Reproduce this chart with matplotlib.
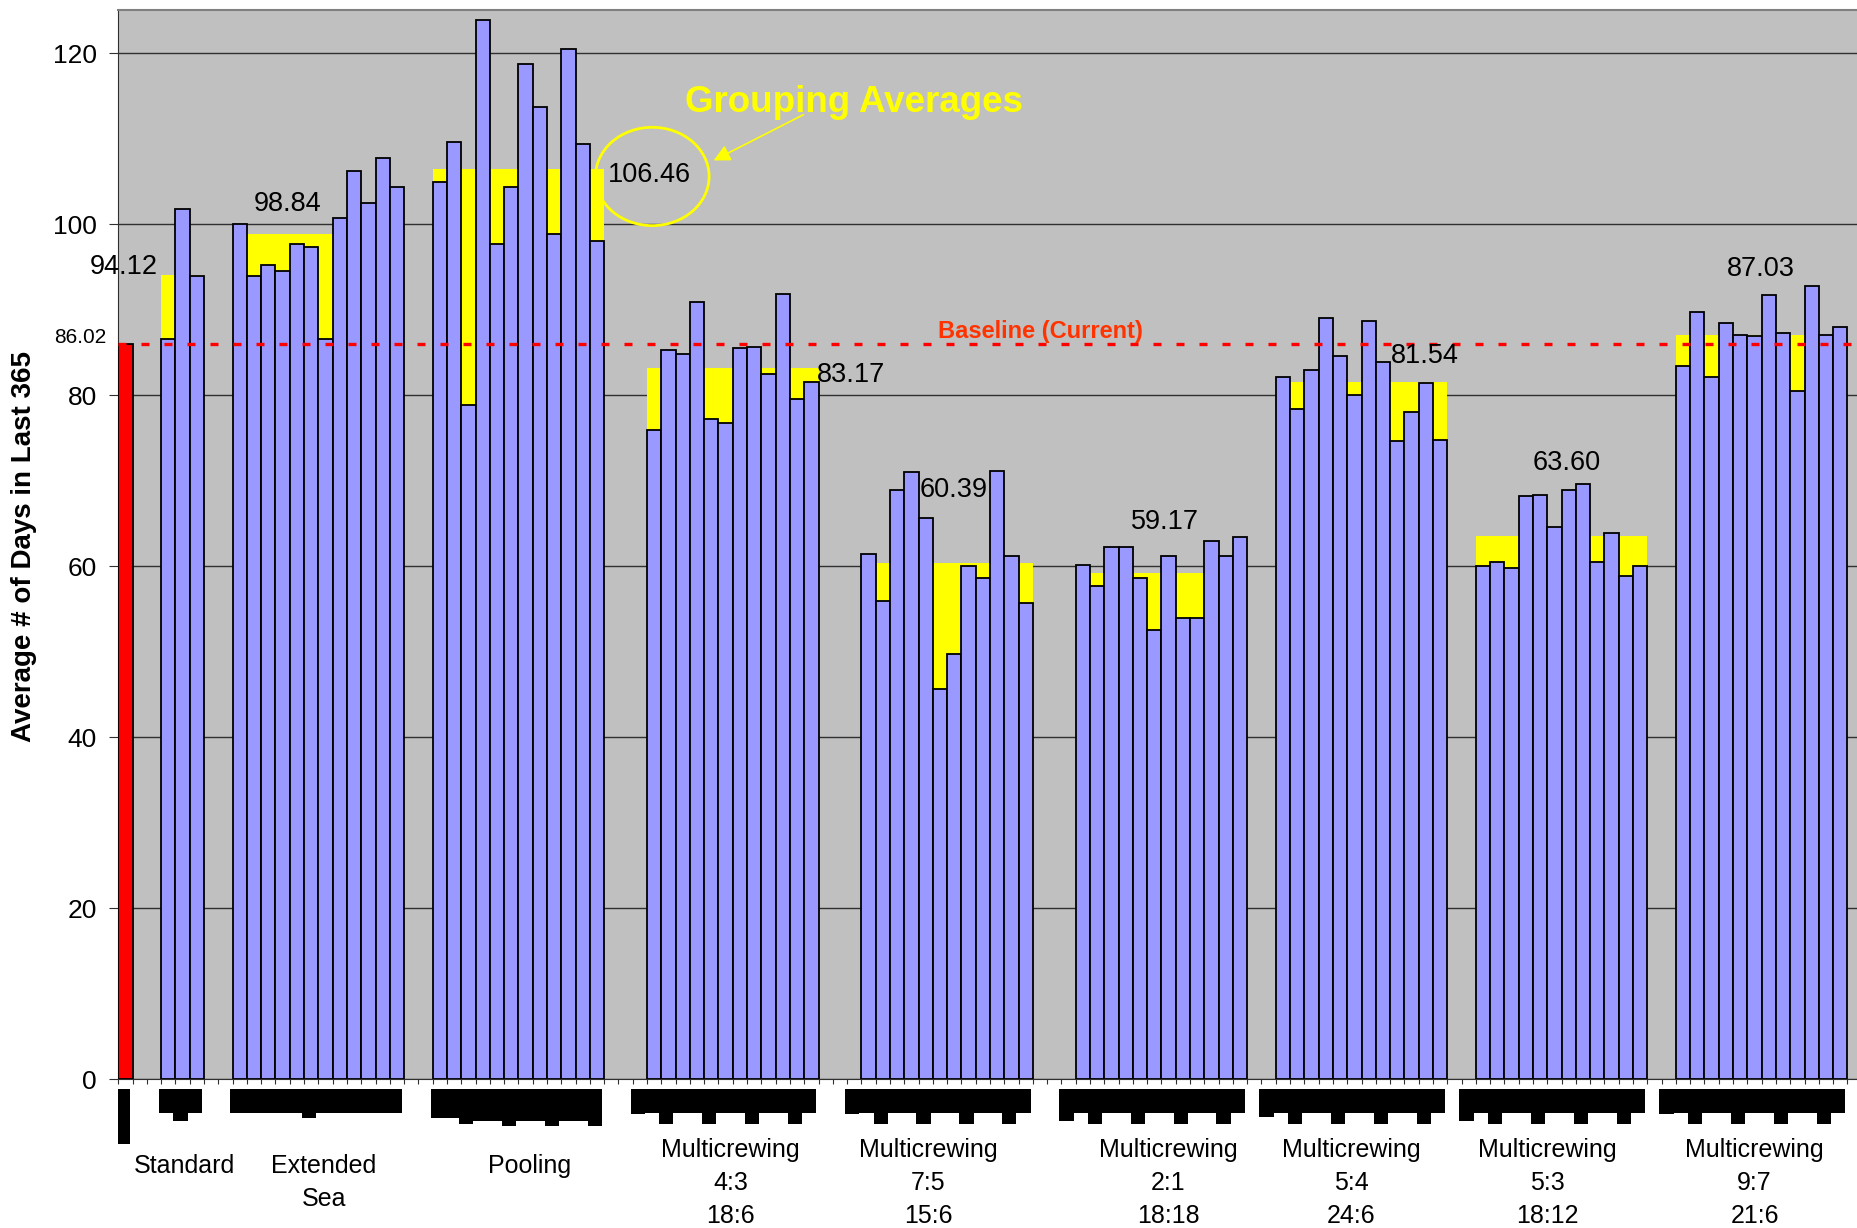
import matplotlib
matplotlib.use('Agg')  # no display
import matplotlib.pyplot as plt
from matplotlib.patches import Ellipse
import numpy as np

plt.rcParams['font.family'] = ['Liberation Sans', 'DejaVu Sans']

# Baseline (current) value, drawn as the red bar on the left
baseline_value = 86.02

# Groups of options
group_names = [
    ['Standard'],
    ['Extended', 'Sea'],
    ['Pooling'],
    ['Multicrewing', '4:3', '18:6'],
    ['Multicrewing', '7:5', '15:6'],
    ['Multicrewing', '2:1', '18:18'],
    ['Multicrewing', '5:4', '24:6'],
    ['Multicrewing', '5:3', '18:12'],
    ['Multicrewing', '9:7', '21:6'],
]

standard_vals = [86.6, 101.8, 93.9]
extended_vals = [100.0, 93.9, 95.2, 94.6, 97.7, 97.3, 86.6, 100.7, 106.2, 102.5, 107.8, 104.4]
pooling_vals = [105.0, 109.6, 78.9, 123.9, 97.7, 104.4, 118.7, 113.7, 98.9, 120.5, 109.4, 98.0]
mc_4_3_vals = [75.9, 85.3, 84.8, 90.9, 77.2, 76.8, 85.5, 85.7, 82.5, 91.9, 79.6, 81.6]
mc_7_5_vals = [61.4, 55.9, 68.9, 71.0, 65.7, 45.7, 49.8, 60.0, 58.6, 71.2, 61.2, 55.7]
mc_2_1_vals = [60.2, 57.7, 62.3, 62.3, 58.6, 52.6, 61.2, 54.0, 54.0, 63.0, 61.2, 63.4]
mc_5_4_vals = [82.1, 78.4, 83.0, 89.1, 84.6, 80.0, 88.7, 83.9, 74.6, 78.0, 81.4, 74.8]
mc_5_3_vals = [60.0, 60.5, 59.8, 68.2, 68.4, 64.6, 68.9, 69.6, 60.5, 63.9, 58.9, 60.0]
mc_9_7_vals = [83.4, 89.8, 82.1, 88.5, 87.1, 86.9, 91.7, 87.3, 80.5, 92.8, 87.1, 88.0]

group_values = [standard_vals, extended_vals, pooling_vals, mc_4_3_vals, mc_7_5_vals,
                mc_2_1_vals, mc_5_4_vals, mc_5_3_vals, mc_9_7_vals]

# Grouping averages (as printed on the chart)
group_avgs = [94.12, 98.84, 106.46, 83.17, 60.39, 59.17, 81.54, 63.60, 87.03]

# Empty category slots before each group
group_gap = [2, 2, 2, 3, 3, 3, 2, 2, 2]

# Black label blocks under the axis (depth below the axis line, in pixels)
baseline_block = 64.7
group_blocks = [
    [33.4, 42.0, 33.4],
    [33.4, 33.4, 33.4, 33.4, 33.4, 38.4, 33.4, 33.4, 33.4, 33.4, 33.4, 33.4],
    [38.4, 38.4, 44.7, 41.7, 41.7, 46.7, 41.7, 41.7, 46.7, 41.7, 41.7, 46.7],
    [33.4, 44.7, 33.4, 33.4, 44.7, 33.4, 33.4, 44.7, 33.4, 33.4, 44.7, 33.4],
    [33.4, 44.7, 33.4, 33.4, 44.7, 33.4, 33.4, 44.7, 33.4, 33.4, 44.7, 33.4],
    [33.4, 44.7, 33.4, 33.4, 44.7, 33.4, 33.4, 44.7, 33.4, 33.4, 44.7, 33.4],
    [33.4, 44.7, 33.4, 33.4, 44.7, 33.4, 33.4, 44.7, 33.4, 33.4, 44.7, 33.4],
    [33.4, 44.7, 33.4, 33.4, 44.7, 33.4, 33.4, 44.7, 33.4, 33.4, 44.7, 33.4],
    [33.4, 44.7, 33.4, 33.4, 44.7, 33.4, 33.4, 44.7, 33.4, 33.4, 44.7, 33.4],
]
# block piece in the slot just before the group (None = no piece)
group_pre_block = [None, None, None, 35.0, 35.0, 41.4, 37.4, 41.4, 35.0]

# Layout: positions of the average labels (slot units, data units) and label nudges
avg_label_pos = [(-0.09, 94.19), (11.31, 101.59), (36.64, 104.91), (50.76, 81.59),
                 (57.97, 68.07), (72.73, 64.42), (90.92, 83.74), (100.86, 71.26),
                 (114.47, 93.95)]
name_nudge = [0.1, 0.38, 0.81, -0.14, -1.3, 0.48, -0.72, -0.97, -0.5]

BAR_BLUE = '#9999FF'
YELLOW = '#FFFF00'
GRAY_BG = '#C0C0C0'

# Category positions
positions = []
cur = 1
for gap, vals in zip(group_gap, group_values):
    cur += gap
    positions.append(np.arange(cur, cur + len(vals)))
    cur += len(vals)
n_slots = cur + 1

W, H = 1858, 1228
fig = plt.figure(figsize=(W / 100, H / 100), dpi=100)
fig.patch.set_facecolor('white')

slot_px = 14.29
ax_left = 118.3 / W
ax_bottom = (H - 1079.3) / H
ax_height = (1079.3 - 10) / H
ax_width = n_slots * slot_px / W
ax = fig.add_axes([ax_left, ax_bottom, ax_width, ax_height])
ax.set_facecolor(GRAY_BG)
ax.set_xlim(-0.5, n_slots - 0.5)
ax.set_ylim(0, 125.07)

# Gridlines
ax.set_yticks(np.arange(0, 121, 20))
ax.yaxis.grid(True, color='#303030', linewidth=1.0)
ax.set_axisbelow(True)

# Red baseline bar
ax.bar(0, baseline_value, width=1.0, color='#FF0000', edgecolor='black', linewidth=1.3, zorder=3)

# Yellow group averages behind blue bars, then blue bars
for xs, vals, avg in zip(positions, group_values, group_avgs):
    ax.bar(xs.mean(), avg, width=len(xs), color=YELLOW, linewidth=0, zorder=2)
    ax.bar(xs, vals, width=1.0, color=BAR_BLUE, edgecolor='black', linewidth=1.3, zorder=3)

# Baseline dashed line
ax.axhline(baseline_value, color='#FF0000', linewidth=2.4, dashes=(2.4, 4.5), zorder=4)
ax.text(64.0, 86.67, 'Baseline (Current)', color='#FF3300', fontsize=17, fontweight='bold',
        ha='center', va='baseline', zorder=5)
ax.text(-1.31, 86.08, f'{baseline_value:.2f}', fontsize=15, ha='right', va='baseline',
        clip_on=False)

# Average labels
for (lx, ly), avg in zip(avg_label_pos, group_avgs):
    ax.text(lx, ly, f'{avg:.2f}', fontsize=19.5, ha='center', va='baseline', zorder=5,
            clip_on=False)

# Call-out for the averages
ax.add_patch(Ellipse((36.87, 105.6), width=7.95, height=11.5, fill=False,
                     edgecolor=YELLOW, linewidth=2.0, zorder=5))
ax.annotate('', xy=(40.98, 107.32), xytext=(47.63, 112.98),
            arrowprops=dict(arrowstyle='-|>', color=YELLOW, lw=1.2, mutation_scale=25),
            zorder=5)
ax.text(50.95, 113.17, 'Grouping Averages', color=YELLOW, fontsize=26.5, fontweight='bold',
        ha='center', va='baseline', zorder=5)

# Axes styling
ax.set_xticks(np.arange(-0.5, n_slots, 1))
ax.set_xticklabels([])
ax.tick_params(axis='x', length=3.6, width=0.8, direction='out', color='#303030')
ax.tick_params(axis='y', length=6.2, width=0.8, pad=9.4, labelsize=19, color='#303030')
ax.spines['top'].set_color('#808080')
ax.spines['top'].set_linewidth(1.5)
ax.spines['left'].set_color('#303030')
ax.spines['bottom'].set_color('#303030')
ax.spines['right'].set_visible(False)

fig.text(24 / W, 1 - 547 / H, 'Average # of Days in Last 365', rotation=90,
         fontsize=20, fontweight='bold', ha='center', va='center')

# Strip below the axis with the black label blocks and group names
strip = fig.add_axes([ax_left, 0, ax_width, ax_bottom])
strip.set_xlim(-0.5, n_slots - 0.5)
strip.set_ylim(-(1228 - 1079.3), 0)
strip.axis('off')

shift = -0.15
top_gap = 10
strip.bar(0 + shift, -(baseline_block - top_gap), bottom=-top_gap, width=1.0,
          color='black', linewidth=0, antialiased=False)
for xs, blocks, pre in zip(positions, group_blocks, group_pre_block):
    strip.bar(xs + shift, -(np.array(blocks) - top_gap), bottom=-top_gap, width=1.0,
              color='black', linewidth=0, antialiased=False)
    if pre is not None:
        strip.bar(xs[0] - 1 + shift, -(pre - top_gap), bottom=-top_gap, width=1.0,
                  color='black', linewidth=0, antialiased=False)

for xs, lines, nudge in zip(positions, group_names, name_nudge):
    cx = xs.mean() + nudge
    if len(lines) == 3:
        baselines = [-78.0, -111.0, -144.0]
    else:
        baselines = [-93.4, -126.4]
    for txt, by in zip(lines, baselines):
        strip.text(cx, by, txt, fontsize=18, ha='center', va='baseline', clip_on=False)

fig.savefig('out.png', dpi=100)
plt.close(fig)
